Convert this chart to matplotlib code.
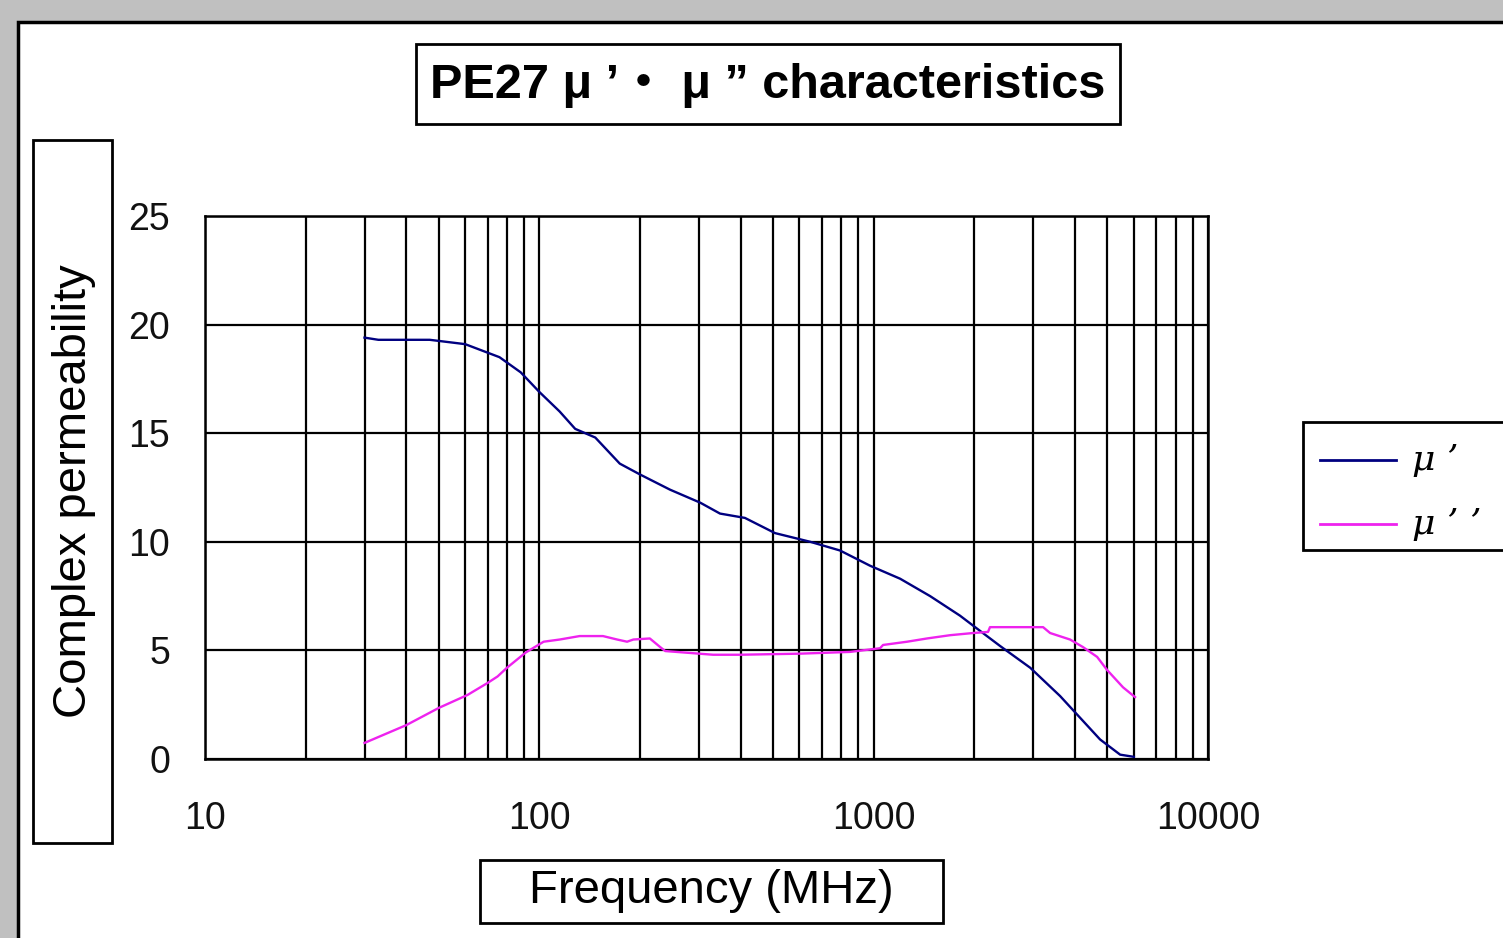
import matplotlib
matplotlib.use("Agg")
import matplotlib.pyplot as plt
from matplotlib.patches import Rectangle
from matplotlib.lines import Line2D
from matplotlib.ticker import FixedLocator, NullFormatter

# ---------------- data ----------------
freq_mu1 = [30, 33, 47, 60, 76, 88, 100, 115, 128, 147, 174, 200, 246, 303, 347,
            412, 507, 646, 793, 975, 1200, 1475, 1812, 2080, 2390, 2940, 3610,
            4143, 4755, 5460, 6000]
mu1 = [19.4, 19.3, 19.3, 19.1, 18.5, 17.8, 16.9, 16.0, 15.2, 14.8, 13.6, 13.1,
       12.4, 11.8, 11.3, 11.1, 10.4, 10.0, 9.6, 8.9, 8.3, 7.5, 6.6, 5.9, 5.2,
       4.2, 2.9, 1.9, 0.9, 0.2, 0.1]

freq_mu2 = [30, 40, 50, 61, 70, 75, 80, 91, 103, 115, 132, 155, 171, 183, 191,
            214, 230, 238, 331, 398, 602, 849, 1045, 1067, 1259, 1445, 1693,
            1983, 2198, 2228, 3212, 3371, 3868, 4230, 4660, 4990, 5570, 6050]
mu2 = [0.74, 1.56, 2.35, 2.95, 3.5, 3.8, 4.2, 4.9, 5.4, 5.5, 5.66, 5.66, 5.5,
       5.4, 5.5, 5.55, 5.15, 4.97, 4.8, 4.8, 4.85, 4.93, 5.1, 5.25, 5.4, 5.55,
       5.7, 5.8, 5.85, 6.07, 6.07, 5.8, 5.5, 5.15, 4.7, 4.1, 3.3, 2.85]

series_names = ["μ ’", "μ ’ ’"]
y_ticks = [0, 5, 10, 15, 20, 25]
x_ticks = [10, 100, 1000, 10000]
x_tick_labels = ["10", "100", "1000", "10000"]
title_text = "PE27 μ ’・ μ ” characteristics"
xlabel_text = "Frequency (MHz)"
ylabel_text = "Complex permeability"

# ---------------- layout helpers ----------------
W, H = 1503, 938
fig = plt.figure(figsize=(W / 100, H / 100), dpi=100, facecolor="#c0c0c0")


def fx(x):
    return x / W


def fy(y):
    return 1 - y / H


def box(x0, y0, x1, y1, lw=2.0, fc="white"):
    fig.add_artist(Rectangle((fx(x0), fy(y1)), fx(x1) - fx(x0), fy(y0) - fy(y1),
                             transform=fig.transFigure, facecolor=fc,
                             edgecolor="black", linewidth=lw, zorder=0))


# white chart panel
box(18, 22, 1560, 960, lw=2.5)

# ---------------- axes ----------------
ax = fig.add_axes([fx(205), fy(759), fx(1208) - fx(205), fy(216) - fy(759)])
ax.set_facecolor("white")
ax.set_xscale("log")
ax.set_xlim(10, 10000)
ax.set_ylim(0, 25)

navy = "#000080"
magenta = "#ee22ee"
ax.plot(freq_mu1, mu1, color=navy, lw=1.7, zorder=3)
ax.plot(freq_mu2, mu2, color=magenta, lw=1.7, zorder=3)

ax.xaxis.set_major_locator(FixedLocator(x_ticks))
minor = [m * d for d in (10, 100, 1000) for m in range(2, 10)]
ax.xaxis.set_minor_locator(FixedLocator(minor))
ax.xaxis.set_minor_formatter(NullFormatter())
ax.set_xticklabels(x_tick_labels)
ax.set_yticks(y_ticks)
ax.grid(True, which="both", axis="x", color="black", lw=1.6)
ax.grid(True, which="major", axis="y", color="black", lw=1.6)
ax.set_axisbelow(True)
for s in ax.spines.values():
    s.set_color("black")
    s.set_linewidth(1.8)

ax.tick_params(axis="both", which="both", length=0)
ax.tick_params(axis="x", pad=30)
ax.tick_params(axis="y", pad=25)
for lab in ax.get_xticklabels() + ax.get_yticklabels():
    lab.set_fontfamily(["Liberation Sans", "DejaVu Sans"])
    lab.set_fontsize(27)
    lab.set_color("#111111")

# ---------------- title / labels in boxes ----------------
box(416, 44, 1120, 124)
fig.text(fx(768), fy(85), title_text, ha="center", va="center",
         fontsize=35, fontweight="bold",
         family=["Liberation Sans", "Noto Sans CJK JP", "DejaVu Sans"])

box(33, 140, 112, 843)
fig.text(fx(74), fy(491), ylabel_text, ha="center", va="center",
         rotation=90, fontsize=34, family=["Liberation Sans", "DejaVu Sans"])

box(480, 860, 943, 923)
fig.text(fx(711), fy(891), xlabel_text, ha="center", va="center",
         fontsize=34, family=["Liberation Sans", "DejaVu Sans"])

# ---------------- legend (drawn in figure space, clipped by figure edge) ----------------
box(1303, 422, 1560, 550)
for name, col, yy in zip(series_names, [navy, magenta], [460, 524]):
    fig.add_artist(Line2D([fx(1320), fx(1396)], [fy(yy), fy(yy)], color=col,
                          lw=2.0, transform=fig.transFigure))
    fig.text(fx(1412), fy(yy), name, ha="left", va="center", fontsize=26,
             style="italic", family=["DejaVu Serif"])

fig.savefig("out.png", dpi=100, facecolor=fig.get_facecolor())
